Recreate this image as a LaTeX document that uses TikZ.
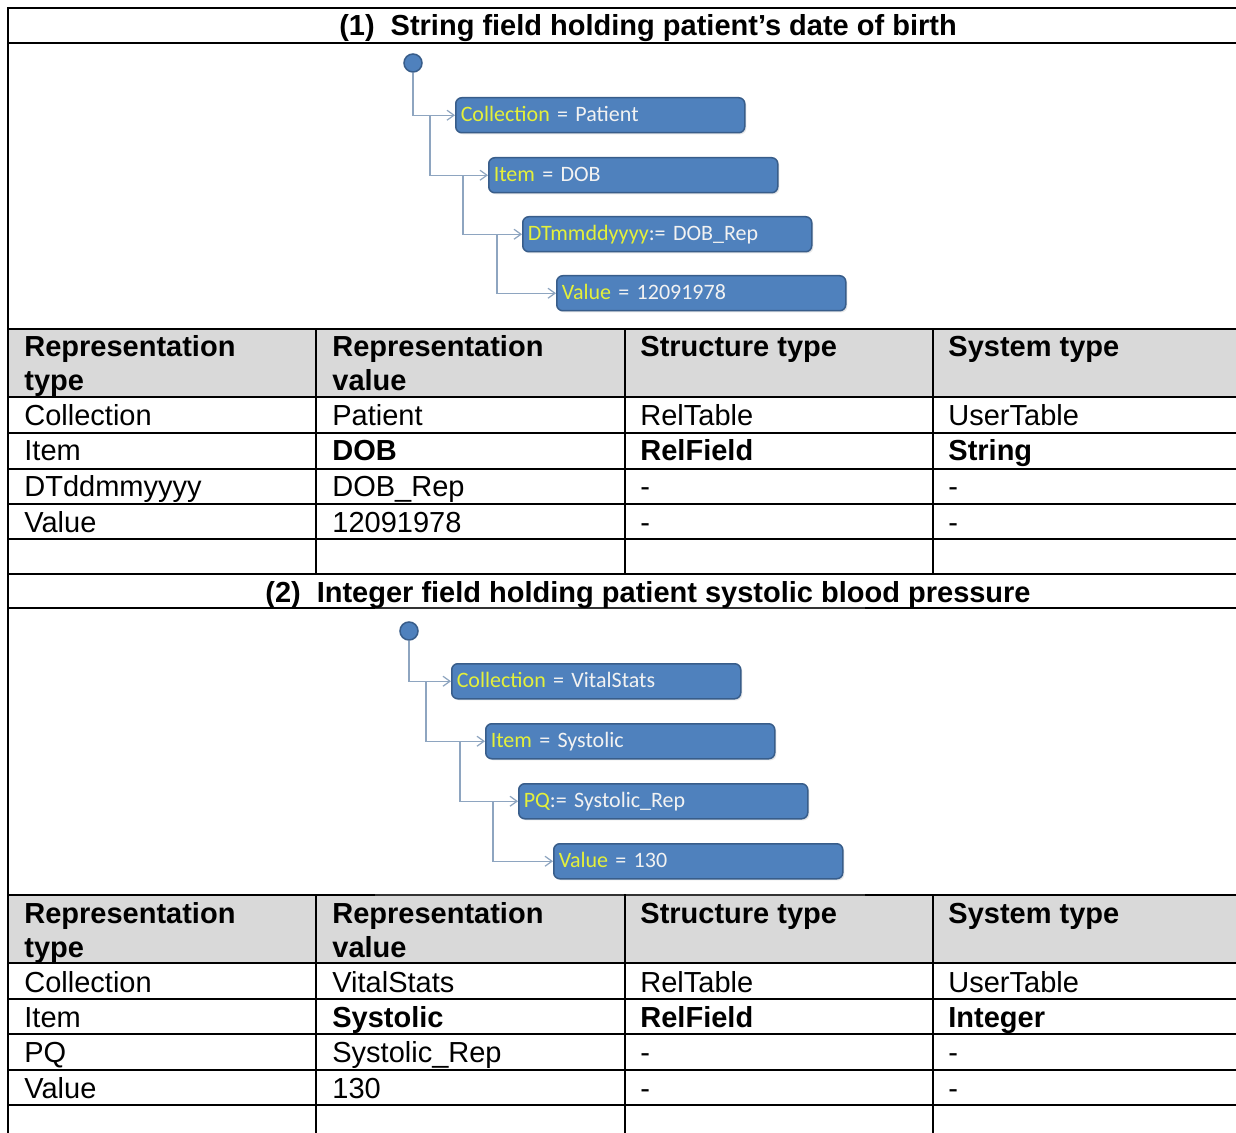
\documentclass[tikz,border=0pt]{standalone}
\usepackage{fontspec}
\setmainfont{Liberation Sans}
\newfontfamily\boxfont{Carlito}
\usetikzlibrary{arrows.meta,shadows}

\definecolor{boxblue}{HTML}{4F81BD}
\definecolor{boxedge}{HTML}{385D8A}
\definecolor{keyyellow}{RGB}{228,240,58}
\definecolor{boxtext}{RGB}{242,242,242}
\definecolor{linkgray}{HTML}{8EA5C0}
\definecolor{headgray}{HTML}{D9D9D9}

\newcommand{\kv}[2]{{\color{keyyellow}#1}#2}

\begin{document}
\begin{tikzpicture}[x=0.5pt,y=-0.5pt,
  rule/.style={line width=1pt,line cap=rect},
  thinrule/.style={line width=0.55pt,black!80},
  celltext/.style={anchor=base west,inner sep=0pt,font=\fontsize{14.5}{17}\selectfont},
  headtext/.style={celltext,font=\fontsize{14.5}{17}\selectfont\bfseries},
  titletext/.style={anchor=base,inner sep=0pt,font=\fontsize{14.5}{17}\selectfont\bfseries},
  treebox/.style={anchor=north west,draw=boxedge,line width=0.75pt,fill=boxblue,
    rounded corners=3pt,minimum height=17.5pt,text width=139.5pt,align=left,
    inner xsep=2.5pt,inner ysep=0pt,text height=7.5pt,text depth=1.5pt,
    font=\boxfont\fontsize{11}{13}\selectfont,text=boxtext,
    drop shadow={opacity=0.18,shadow xshift=0.8pt,shadow yshift=-0.8pt}},
  treeroot/.style={circle,draw=boxedge,line width=0.75pt,fill=boxblue,minimum size=9pt,inner sep=0pt},
  conn/.style={draw=linkgray,line width=0.6pt,-{Straight Barb[length=3.5pt,width=5pt]}}
]
\useasboundingbox (0,0) rectangle (1236,1133);
\fill[white] (0,0) rectangle (1236,1133);

% grey header rows
\fill[headgray] (8,329) rectangle (1240,397);
\fill[headgray] (8,895) rectangle (1240,963);

% horizontal rules
\foreach \y in {8,43,329,397,433,469,504,539,574,963,999,1034,1070,1105}
  \draw[rule] (8,\y) -- (1240,\y);
\foreach \y in {608,895}{
  \draw[rule] (8,\y) -- (375,\y);
  \draw[thinrule] (375,\y) -- (866,\y);
  \draw[rule] (866,\y) -- (1240,\y);
}
% vertical rules
\draw[rule] (8,8) -- (8,1140);
\foreach \x in {316,625,933}{
  \draw[rule] (\x,329) -- (\x,574);
  \draw[rule] (\x,895) -- (\x,1140);
}

% section titles
\node[titletext] (title1) at (648,36) {(1)\hspace{0.55em}String field holding patient’s date of birth};
\node[titletext] (title2) at (648,602) {(2)\hspace{0.55em}Integer field holding patient systolic blood pressure};

% ---------- tree (1) ----------
\node[treeroot] (r1) at (413,63) {};
\node[treebox] (a1) at (455,97)  {\kv{Collection}{ = Patient}};
\node[treebox] (a2) at (488,157) {\kv{Item}{ = DOB}};
\node[treebox] (a3) at (522,216) {\kv{DTmmddyyyy}{:= DOB\_Rep}};
\node[treebox] (a4) at (556,275) {\kv{Value}{ = 12091978}};
\draw[conn] (r1.south) |- (a1.west);
\draw[conn] ([xshift=-12.5pt]a1.west) |- (a2.west);
\draw[conn] ([xshift=-12.5pt]a2.west) |- (a3.west);
\draw[conn] ([xshift=-12.5pt]a3.west) |- (a4.west);

% ---------- tree (2) ----------
\node[treeroot] (r2) at (409,631) {};
\node[treebox] (b1) at (451,663) {\kv{Collection}{ = VitalStats}};
\node[treebox] (b2) at (485,723) {\kv{Item}{ = Systolic}};
\node[treebox] (b3) at (518,783) {\kv{PQ}{:= Systolic\_Rep}};
\node[treebox] (b4) at (553,843) {\kv{Value}{ = 130}};
\draw[conn] (r2.south) |- (b1.west);
\draw[conn] ([xshift=-12.5pt]b1.west) |- (b2.west);
\draw[conn] ([xshift=-12.5pt]b2.west) |- (b3.west);
\draw[conn] ([xshift=-12.5pt]b3.west) |- (b4.west);

% ---------- table (1) ----------
\node[headtext] (h1a) at (24,357)  {\begin{tabular}[t]{@{}l@{}}Representation\\type\end{tabular}};
\node[headtext] (h1b) at (332,357) {\begin{tabular}[t]{@{}l@{}}Representation\\value\end{tabular}};
\node[headtext] (h1c) at (640,357) {Structure type};
\node[headtext] (h1d) at (948,357) {System type};

\node[celltext] (t1r1a) at (24,426)  {Collection};
\node[celltext] (t1r1b) at (332,426) {Patient};
\node[celltext] (t1r1c) at (640,426) {RelTable};
\node[celltext] (t1r1d) at (948,426) {UserTable};
\node[celltext] (t1r2a) at (24,461)  {Item};
\node[headtext] (t1r2b) at (332,461) {DOB};
\node[headtext] (t1r2c) at (640,461) {RelField};
\node[headtext] (t1r2d) at (948,461) {String};
\node[celltext] (t1r3a) at (24,497)  {DTddmmyyyy};
\node[celltext] (t1r3b) at (332,497) {DOB\_Rep};
\node[celltext] (t1r3c) at (640,497) {-};
\node[celltext] (t1r3d) at (948,497) {-};
\node[celltext] (t1r4a) at (24,532)  {Value};
\node[celltext] (t1r4b) at (332,532) {12091978};
\node[celltext] (t1r4c) at (640,532) {-};
\node[celltext] (t1r4d) at (948,532) {-};

% ---------- table (2) ----------
\node[headtext] (h2a) at (24,923)  {\begin{tabular}[t]{@{}l@{}}Representation\\type\end{tabular}};
\node[headtext] (h2b) at (332,923) {\begin{tabular}[t]{@{}l@{}}Representation\\value\end{tabular}};
\node[headtext] (h2c) at (640,923) {Structure type};
\node[headtext] (h2d) at (948,923) {System type};

\node[celltext] (t2r1a) at (24,992)  {Collection};
\node[celltext] (t2r1b) at (332,992) {VitalStats};
\node[celltext] (t2r1c) at (640,992) {RelTable};
\node[celltext] (t2r1d) at (948,992) {UserTable};
\node[celltext] (t2r2a) at (24,1027)  {Item};
\node[headtext] (t2r2b) at (332,1027) {Systolic};
\node[headtext] (t2r2c) at (640,1027) {RelField};
\node[headtext] (t2r2d) at (948,1027) {Integer};
\node[celltext] (t2r3a) at (24,1062)  {PQ};
\node[celltext] (t2r3b) at (332,1062) {Systolic\_Rep};
\node[celltext] (t2r3c) at (640,1062) {-};
\node[celltext] (t2r3d) at (948,1062) {-};
\node[celltext] (t2r4a) at (24,1098)  {Value};
\node[celltext] (t2r4b) at (332,1098) {130};
\node[celltext] (t2r4c) at (640,1098) {-};
\node[celltext] (t2r4d) at (948,1098) {-};
\end{tikzpicture}
\end{document}
